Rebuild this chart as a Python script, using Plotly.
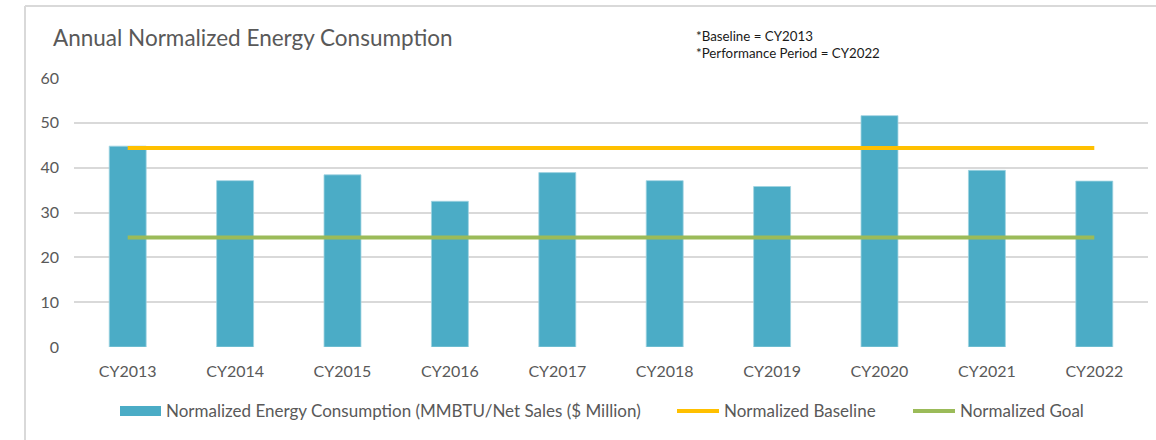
import plotly.graph_objects as go

categories = ["CY2013", "CY2014", "CY2015", "CY2016", "CY2017",
              "CY2018", "CY2019", "CY2020", "CY2021", "CY2022"]
consumption = [44.8, 37.1, 38.4, 32.5, 38.9, 37.1, 35.8, 51.6, 39.4, 37.0]
baseline = [44.4, 44.4, 44.4, 44.4, 44.4, 44.4, 44.4, 44.4, 44.4, 44.4]
goal = [24.4, 24.4, 24.4, 24.4, 24.4, 24.4, 24.4, 24.4, 24.4, 24.4]
y_ticks = [0, 10, 20, 30, 40, 50, 60]

NAME_BAR = "Normalized Energy Consumption (MMBTU/Net Sales ($ Million)"
NAME_BASE = "Normalized Baseline"
NAME_GOAL = "Normalized Goal"
C_BAR, C_BASE, C_GOAL = "#4BACC6", "#FFC000", "#9BBB59"

FONT = "Lato"
TXT = "#595959"

fig = go.Figure()
fig.add_trace(go.Bar(
    x=categories, y=consumption, name=NAME_BAR,
    marker=dict(color=C_BAR, line=dict(color="#9FD3E1", width=0.8)),
))
fig.add_trace(go.Scatter(
    x=categories, y=baseline, mode="lines", name=NAME_BASE,
    line=dict(color=C_BASE, width=4),
))
fig.add_trace(go.Scatter(
    x=categories, y=goal, mode="lines", name=NAME_GOAL,
    line=dict(color=C_GOAL, width=4),
))

L, R, T, B = 74, 8, 78, 93
W, H = 1156, 440
pw, ph = W - L - R, H - T - B


def px_x(p):
    return (p - L) / pw


def px_y(p):
    return (H - B - p) / ph


LEG_Y = 411
shapes = [
    dict(type="line", xref="paper", yref="paper",
         x0=px_x(25), x1=px_x(1170), y0=px_y(6), y1=px_y(6),
         line=dict(color="#D9D9D9", width=2), layer="below"),
    dict(type="line", xref="paper", yref="paper",
         x0=px_x(25), x1=px_x(25), y0=px_y(6), y1=px_y(460),
         line=dict(color="#D9D9D9", width=2), layer="below"),
    # legend swatches
    dict(type="rect", xref="paper", yref="paper",
         x0=px_x(120), x1=px_x(161), y0=px_y(406), y1=px_y(416),
         fillcolor=C_BAR, line=dict(width=0)),
    dict(type="line", xref="paper", yref="paper",
         x0=px_x(677), x1=px_x(719), y0=px_y(LEG_Y), y1=px_y(LEG_Y),
         line=dict(color=C_BASE, width=4)),
    dict(type="line", xref="paper", yref="paper",
         x0=px_x(913), x1=px_x(955), y0=px_y(LEG_Y), y1=px_y(LEG_Y),
         line=dict(color=C_GOAL, width=4)),
]

legend_texts = [(NAME_BAR, 164), (NAME_BASE, 722), (NAME_GOAL, 958)]

annotations = [
    dict(text="Annual Normalized Energy Consumption", xref="paper", yref="paper",
         x=px_x(51), y=px_y(37), xanchor="left", yanchor="middle",
         showarrow=False, font=dict(size=22.5, color=TXT, family=FONT)),
    dict(text="*Baseline = CY2013<br>*Performance Period = CY2022",
         xref="paper", yref="paper", align="left",
         x=px_x(694), y=px_y(44), xanchor="left", yanchor="middle",
         showarrow=False, font=dict(size=13.3, color="#1a1a1a", family=FONT)),
]
for txt, xp in legend_texts:
    annotations.append(dict(
        text=txt, xref="paper", yref="paper", x=px_x(xp), y=px_y(LEG_Y),
        xanchor="left", yanchor="middle", showarrow=False,
        font=dict(size=17, color=TXT, family=FONT)))

fig.update_layout(
    width=W, height=H,
    margin=dict(l=L, r=R, t=T, b=B),
    paper_bgcolor="white", plot_bgcolor="white",
    font=dict(family=FONT, color=TXT),
    bargap=0.656,
    showlegend=False,
    xaxis=dict(
        showgrid=False, zeroline=False, showline=False,
        tickfont=dict(size=16, color=TXT), ticks="",
        ticklabelstandoff=13,
    ),
    yaxis=dict(
        range=[0, 60], tickvals=y_ticks, showgrid=True, gridcolor="#D9D9D9",
        gridwidth=1.5, zeroline=False, showline=False,
        tickfont=dict(size=16, color=TXT), ticks="", ticklabelstandoff=14,
    ),
    shapes=shapes,
    annotations=annotations,
)

fig.write_html("out.html", config={"displayModeBar": False},
               post_script="document.body.style.margin='0';")
